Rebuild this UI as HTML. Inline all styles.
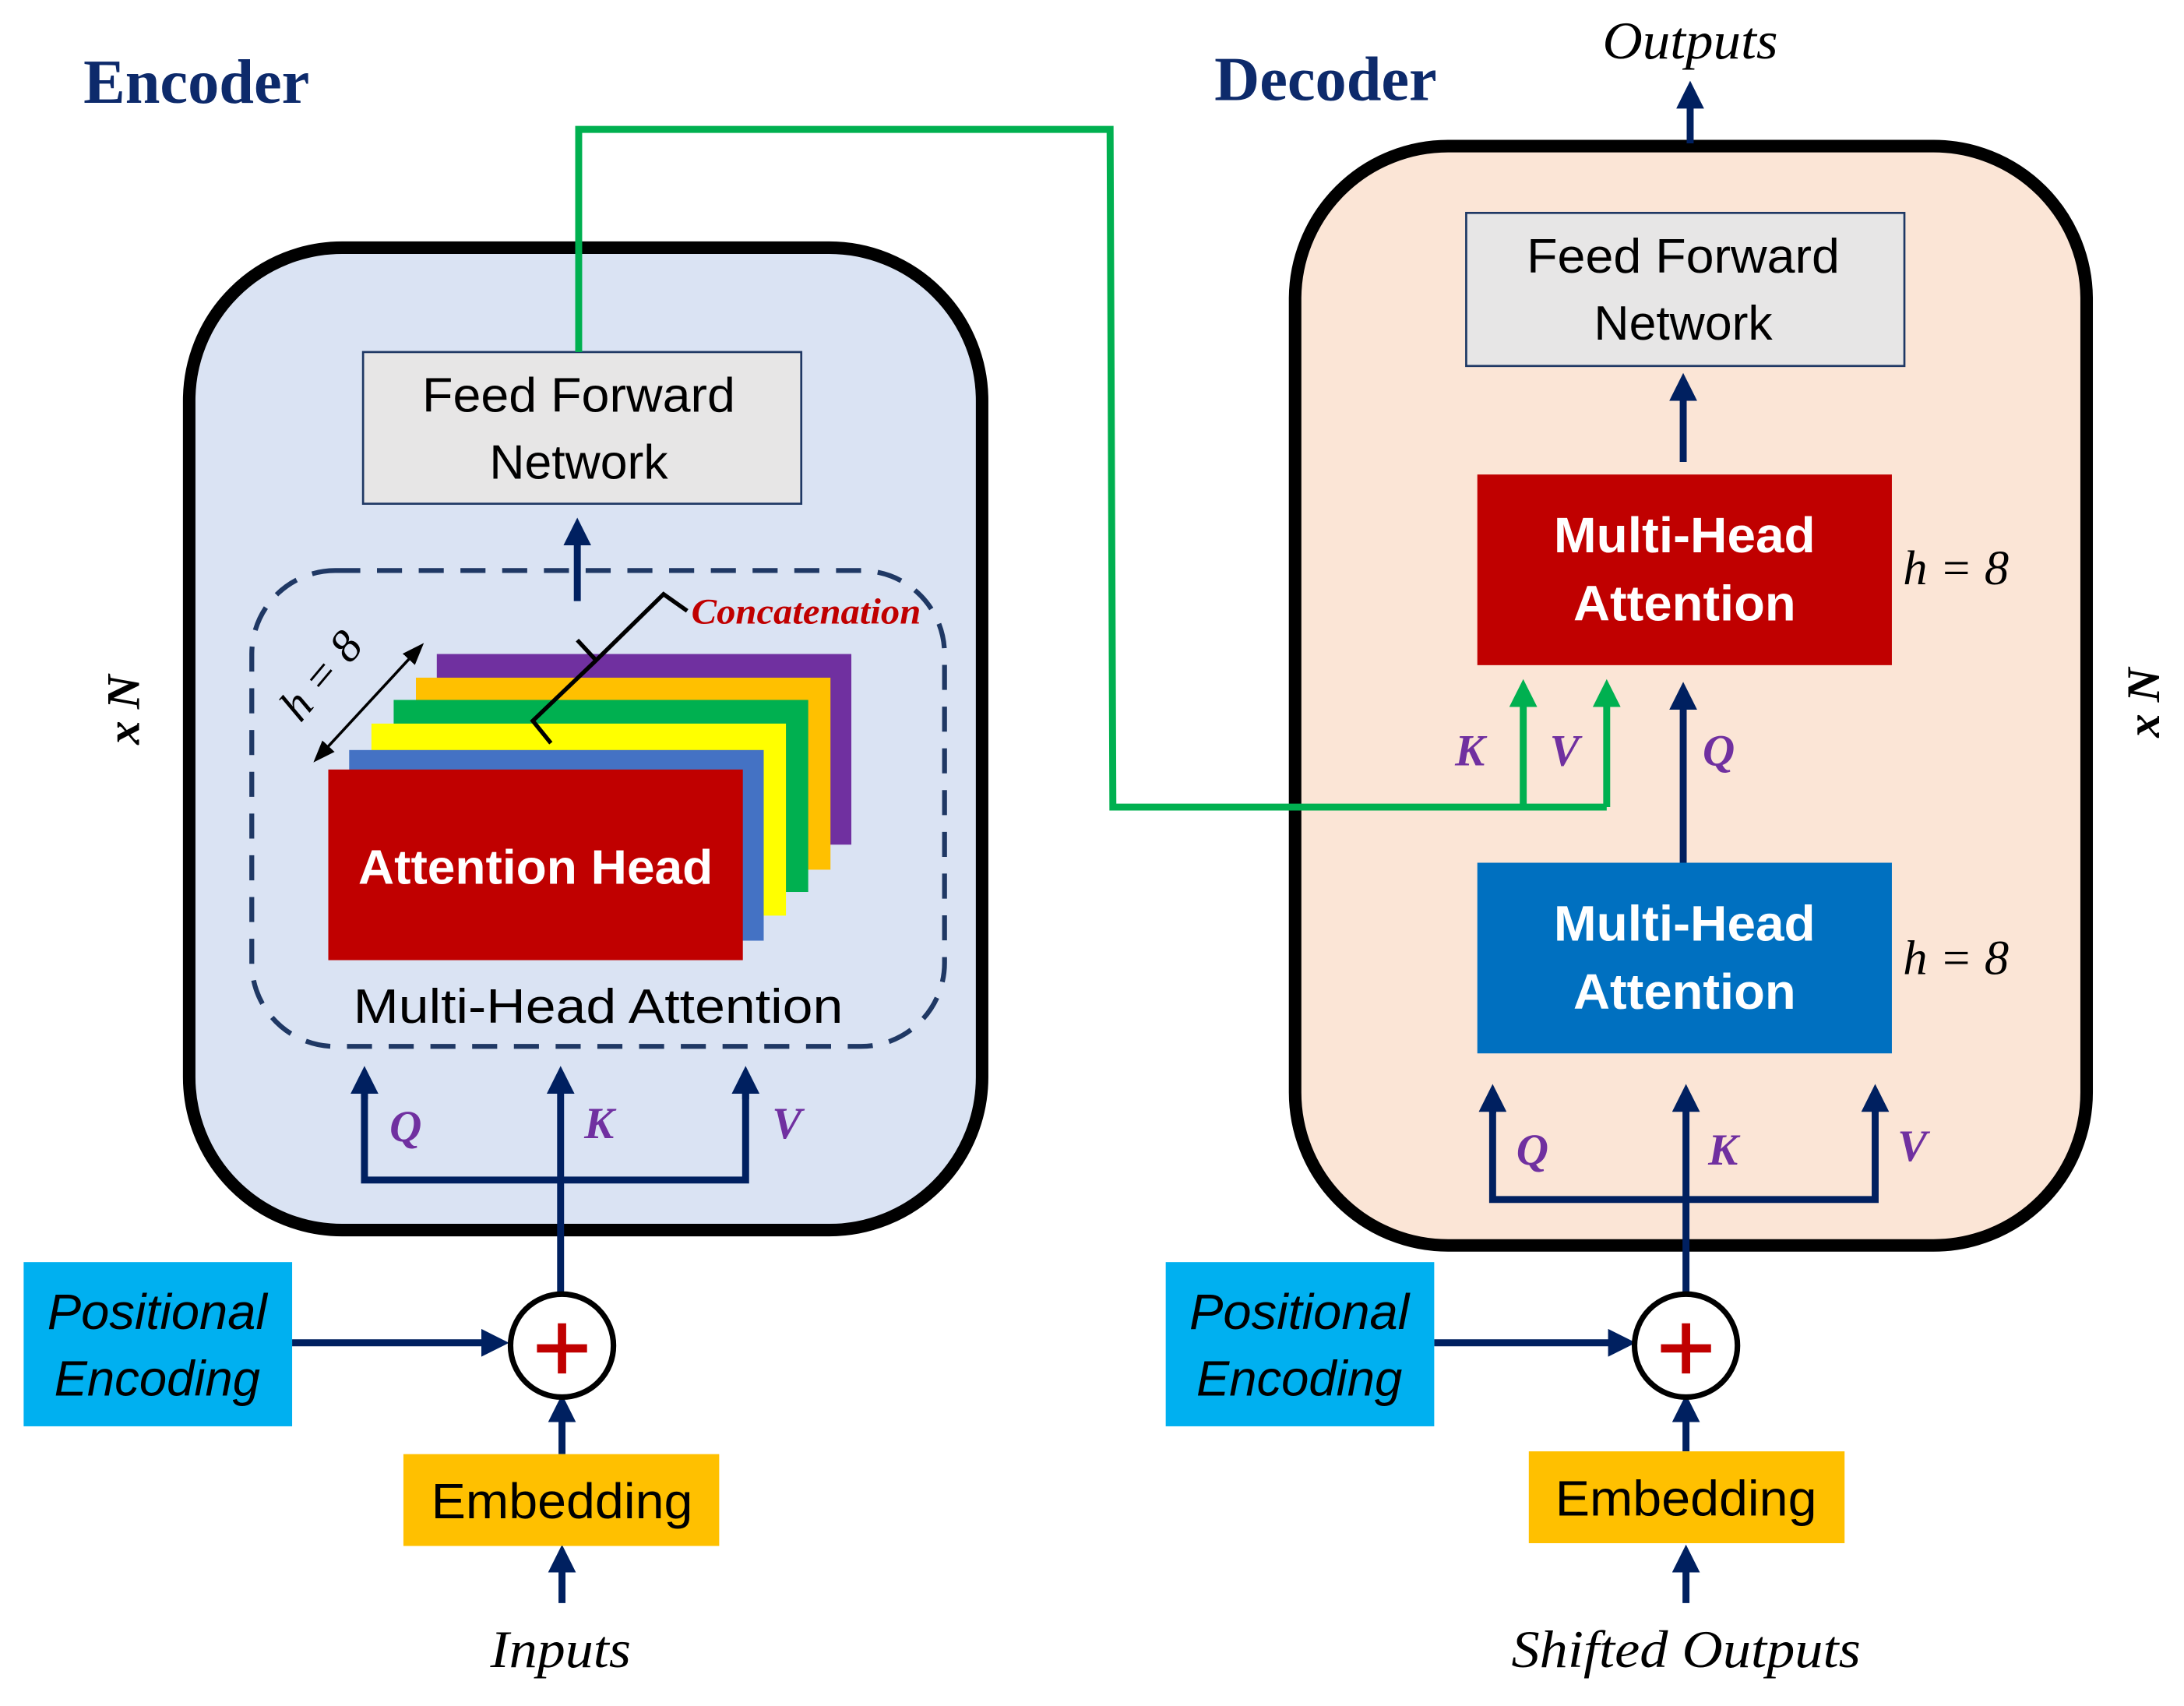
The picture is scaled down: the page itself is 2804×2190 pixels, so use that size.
<!DOCTYPE html>
<html><head><meta charset="utf-8"><style>html,body{margin:0;padding:0;background:#fff}svg{display:block}</style></head>
<body>
<svg width="2804" height="2190" viewBox="0 0 1570 1226" preserveAspectRatio="none" xmlns="http://www.w3.org/2000/svg">
<defs>
<marker id="a" markerWidth="4" markerHeight="4" refX="2" refY="2" orient="auto" markerUnits="strokeWidth"><path d="M0,0 L4,2 L0,4 z" fill="#002060"/></marker>
<marker id="g" markerWidth="4" markerHeight="4" refX="2" refY="2" orient="auto" markerUnits="strokeWidth"><path d="M0,0 L4,2 L0,4 z" fill="#00b050"/></marker>
<marker id="k" markerWidth="8" markerHeight="8" refX="6" refY="4" orient="auto" markerUnits="strokeWidth"><path d="M0,1 L8,4 L0,7 z" fill="#000"/></marker>
</defs>
<g font-family="Liberation Serif, serif">
<text x="60" y="74" font-size="45" font-weight="bold" fill="#0d2a6b">Encoder</text>
<text x="873" y="72" font-size="45" font-weight="bold" fill="#0d2a6b">Decoder</text>
<text x="1215" y="42" font-size="38" font-style="italic" text-anchor="middle" textLength="126" lengthAdjust="spacingAndGlyphs">Outputs</text>
</g>
<rect x="136" y="178" width="570" height="706" rx="110" fill="#dae3f3" stroke="#000" stroke-width="9"/>
<rect x="931" y="105" width="569" height="790" rx="110" fill="#fbe5d6" stroke="#000" stroke-width="9"/>
<line x1="1215" y1="103" x2="1215" y2="68" stroke="#002060" stroke-width="5" marker-end="url(#a)"/>

<g font-family="Liberation Sans, sans-serif" font-size="35" text-anchor="middle">
<rect x="261" y="253" width="315" height="109" fill="#e7e6e6" stroke="#1f3864" stroke-width="1.5"/>
<text x="416" y="296" textLength="225" lengthAdjust="spacingAndGlyphs">Feed Forward</text><text x="416" y="344">Network</text>
<rect x="1054" y="153" width="315" height="110" fill="#e7e6e6" stroke="#1f3864" stroke-width="1.5"/>
<text x="1210" y="196" textLength="225" lengthAdjust="spacingAndGlyphs">Feed Forward</text><text x="1210" y="244">Network</text>
</g>
<line x1="415" y1="432" x2="415" y2="382" stroke="#002060" stroke-width="5" marker-end="url(#a)"/>
<rect x="181" y="410" width="498" height="342" rx="60" fill="none" stroke="#1f3864" stroke-width="3.5" stroke-dasharray="18,12"/>
<rect x="314" y="470" width="298" height="137" fill="#7030a0"/>
<rect x="299" y="487" width="298" height="138" fill="#ffc000"/>
<rect x="283" y="503" width="298" height="138" fill="#00b050"/>
<rect x="267" y="520" width="298" height="138" fill="#ffff00"/>
<rect x="251" y="539" width="298" height="137" fill="#4472c4"/>
<rect x="236" y="553" width="298" height="137" fill="#c00000"/>
<text x="385" y="635" font-family="Liberation Sans, sans-serif" font-size="35" font-weight="bold" fill="#fff" text-anchor="middle" textLength="255" lengthAdjust="spacingAndGlyphs">Attention Head</text>
<polyline points="396,534 383,518 427,476 477,427 494,439" fill="none" stroke="#000" stroke-width="3"/>
<line x1="415" y1="460" x2="428" y2="474" stroke="#000" stroke-width="3"/>
<text x="497" y="448" font-family="Liberation Serif, serif" font-size="26" font-style="italic" font-weight="bold" fill="#c00000" textLength="165" lengthAdjust="spacingAndGlyphs">Concatenation</text>
<line x1="265" y1="505" x2="302" y2="465" stroke="#000" stroke-width="2" marker-end="url(#k)"/>
<line x1="265" y1="505" x2="228" y2="545" stroke="#000" stroke-width="2" marker-end="url(#k)"/>
<text transform="translate(216,520) rotate(-50)" font-family="Liberation Serif, serif" font-size="33" font-style="italic">h = 8</text>
<text x="430" y="735" font-family="Liberation Sans, sans-serif" font-size="35" text-anchor="middle" textLength="352" lengthAdjust="spacingAndGlyphs">Multi-Head Attention</text>

<g stroke="#002060" stroke-width="5" fill="none">
<polyline points="262,776 262,848 536,848 536,776"/>
<line x1="262" y1="790" x2="262" y2="776" marker-end="url(#a)"/>
<line x1="536" y1="790" x2="536" y2="776" marker-end="url(#a)"/>
<line x1="403" y1="930" x2="403" y2="776" marker-end="url(#a)"/>
<line x1="210" y1="965" x2="356" y2="965" marker-end="url(#a)"/>
<line x1="404" y1="1045" x2="404" y2="1012" marker-end="url(#a)"/>
<line x1="404" y1="1152" x2="404" y2="1120" marker-end="url(#a)"/>
<line x1="1210" y1="332" x2="1210" y2="278" marker-end="url(#a)"/>
<line x1="1210" y1="620" x2="1210" y2="500" marker-end="url(#a)"/>
<polyline points="1073,790 1073,862 1348,862 1348,790"/>
<line x1="1073" y1="800" x2="1073" y2="789" marker-end="url(#a)"/>
<line x1="1348" y1="800" x2="1348" y2="789" marker-end="url(#a)"/>
<line x1="1212" y1="930" x2="1212" y2="789" marker-end="url(#a)"/>
<line x1="1031" y1="965" x2="1166" y2="965" marker-end="url(#a)"/>
<line x1="1212" y1="1043" x2="1212" y2="1012" marker-end="url(#a)"/>
<line x1="1212" y1="1152" x2="1212" y2="1120" marker-end="url(#a)"/>
</g>
<g stroke="#00b050" stroke-width="5" fill="none">
<polyline points="416,253 416,93 798,93 800,580 1155,580"/>
<line x1="1095" y1="580" x2="1095" y2="498" marker-end="url(#g)"/>
<line x1="1155" y1="580" x2="1155" y2="498" marker-end="url(#g)"/>
</g>
<g font-family="Liberation Serif, serif" font-size="32" font-style="italic" font-weight="bold" fill="#7030a0">
<text x="280" y="820">Q</text><text x="420" y="818">K</text><text x="555" y="818">V</text>
<text x="1090" y="837">Q</text><text x="1228" y="837">K</text><text x="1364" y="834">V</text>
<text x="1046" y="550">K</text><text x="1114" y="550">V</text><text x="1224" y="550">Q</text>
</g>
<circle cx="404" cy="967" r="37" fill="#fff" stroke="#000" stroke-width="4"/>
<circle cx="1212" cy="967" r="37" fill="#fff" stroke="#000" stroke-width="4"/>
<g stroke="#c00000" stroke-width="6"><line x1="386" y1="969" x2="422" y2="969"/><line x1="404" y1="951" x2="404" y2="987"/>
<line x1="1194" y1="969" x2="1230" y2="969"/><line x1="1212" y1="951" x2="1212" y2="987"/></g>

<rect x="17" y="907" width="193" height="118" fill="#00b0f0"/>
<rect x="838" y="907" width="193" height="118" fill="#00b0f0"/>
<rect x="290" y="1045" width="227" height="66" fill="#ffc000"/>
<rect x="1099" y="1043" width="227" height="66" fill="#ffc000"/>
<rect x="1062" y="341" width="298" height="137" fill="#c00000"/>
<rect x="1062" y="620" width="298" height="137" fill="#0070c0"/>
<g font-family="Liberation Sans, sans-serif" font-size="36" text-anchor="middle">
<g font-style="italic"><text x="113" y="955" textLength="158" lengthAdjust="spacingAndGlyphs">Positional</text><text x="113" y="1003" textLength="148" lengthAdjust="spacingAndGlyphs">Encoding</text>
<text x="934" y="955" textLength="158" lengthAdjust="spacingAndGlyphs">Positional</text><text x="934" y="1003" textLength="148" lengthAdjust="spacingAndGlyphs">Encoding</text></g>
<text x="404" y="1091" textLength="188" lengthAdjust="spacingAndGlyphs">Embedding</text><text x="1212" y="1089" textLength="188" lengthAdjust="spacingAndGlyphs">Embedding</text>
<g font-weight="bold" fill="#fff" font-size="36"><text x="1211" y="397" textLength="188" lengthAdjust="spacingAndGlyphs">Multi-Head</text><text x="1211" y="446" textLength="160" lengthAdjust="spacingAndGlyphs">Attention</text>
<text x="1211" y="676" textLength="188" lengthAdjust="spacingAndGlyphs">Multi-Head</text><text x="1211" y="725" textLength="160" lengthAdjust="spacingAndGlyphs">Attention</text></g>
</g>
<g font-family="Liberation Serif, serif" font-style="italic">
<text x="1368" y="420" font-size="35">h = 8</text>
<text x="1368" y="700" font-size="35">h = 8</text>
<text x="403" y="1198" font-size="38" text-anchor="middle" textLength="101" lengthAdjust="spacingAndGlyphs">Inputs</text>
<text x="1212" y="1198" font-size="38" text-anchor="middle" textLength="251" lengthAdjust="spacingAndGlyphs">Shifted Outputs</text>
<text transform="translate(100,510) rotate(-90)" font-size="34" font-weight="bold" text-anchor="middle">x N</text>
<text transform="translate(1552,505) rotate(-90)" font-size="34" font-weight="bold" text-anchor="middle">x N</text>
</g>
</svg>
</body></html>
